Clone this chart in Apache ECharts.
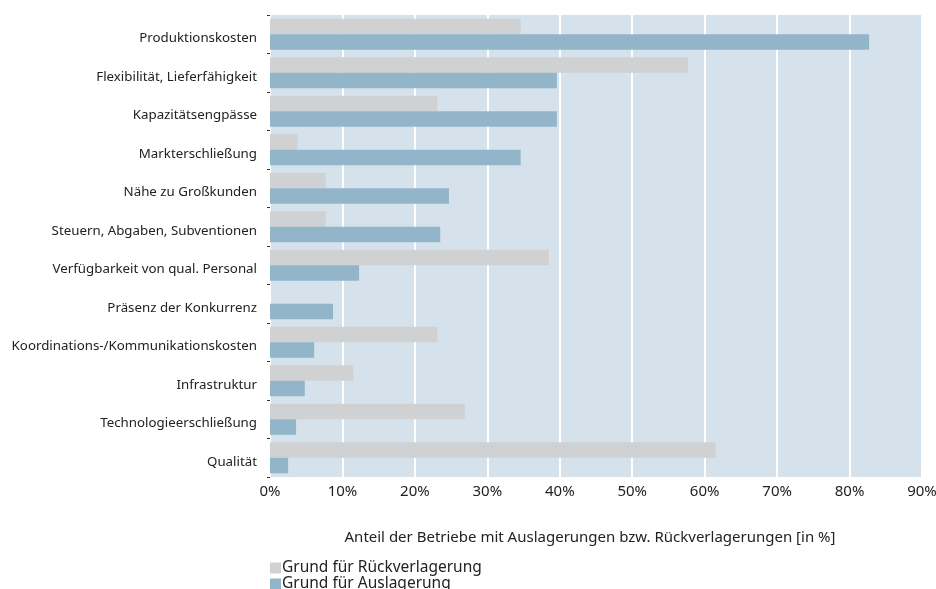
<!DOCTYPE html>
<html>
<head>
<meta charset="utf-8">
<script src="https://cdn.jsdelivr.net/npm/echarts@6/dist/echarts.min.js"></script>
<style>
  html, body { margin: 0; padding: 0; background: #fff; }
  #chart { width: 936px; height: 589px; }
</style>
</head>
<body>
<div id="chart"></div>
<script>
const categories = [
  'Produktionskosten',
  'Flexibilität, Lieferfähigkeit',
  'Kapazitätsengpässe',
  'Markterschließung',
  'Nähe zu Großkunden',
  'Steuern, Abgaben, Subventionen',
  'Verfügbarkeit von qual. Personal',
  'Präsenz der Konkurrenz',
  'Koordinations-/Kommunikationskosten',
  'Infrastruktur',
  'Technologieerschließung',
  'Qualität'
]
const rueckverlagerung = [34.6, 57.7, 23.1, 3.8, 7.7, 7.7, 38.5, 0, 23.1, 11.5, 26.9, 61.5]
const auslagerung = [82.7, 39.6, 39.6, 34.6, 24.7, 23.5, 12.3, 8.7, 6.1, 4.8, 3.6, 2.5]
const seriesNames = ['Grund für Rückverlagerung', 'Grund für Auslagerung']
const xAxisName = 'Anteil der Betriebe mit Auslagerungen bzw. Rückverlagerungen [in %]'

const font = '"Noto Sans", "Open Sans", sans-serif'
const chart = echarts.init(document.getElementById('chart'))

const options = {
  animation: false,
  textStyle: { fontFamily: font },
  grid: {
    left: 270,
    right: 14,
    top: 15,
    bottom: 112,
    outerBoundsMode: 'none',
    show: true,
    backgroundColor: '#d6e2eb',
    borderWidth: 0,
  },
  legend: {
    orient: 'vertical',
    left: 270,
    top: 560,
    height: 60,
    padding: 0,
    itemWidth: 11,
    itemHeight: 11,
    itemGap: 0,
    icon: 'rect',
    textStyle: { fontSize: 15.5, lineHeight: 12, color: '#222', padding: [0, 0, 0, -4] },
    data: seriesNames,
  },
  xAxis: {
    type: 'value',
    min: 0,
    max: 90,
    interval: 10,
    name: xAxisName,
    nameLocation: 'middle',
    nameGap: 53,
    nameTextStyle: { fontSize: 15, color: '#222', padding: [0, 12, 0, 0] },
    axisLine: { show: false },
    axisTick: { show: false },
    axisLabel: { formatter: '{value}%', fontSize: 15, color: '#222', margin: 7 },
    splitLine: { lineStyle: { color: '#ffffff', width: 2 } },
  },
  yAxis: {
    type: 'category',
    inverse: true,
    data: categories,
    axisLine: { show: false },
    axisTick: { show: true, length: 3, lineStyle: { color: '#333' } },
    axisLabel: { fontSize: 13.3, color: '#222', margin: 13, verticalAlign: 'top', lineHeight: 8 },
  },
  series: [
    {
      name: seriesNames[0],
      type: 'bar',
      data: rueckverlagerung,
      itemStyle: { color: '#d0d1d3' },
      barGap: '0%',
      barCategoryGap: '19%',
    },
    {
      name: seriesNames[1],
      type: 'bar',
      data: auslagerung,
      itemStyle: { color: '#93b5ca' },
    },
  ],
}
chart.setOption(options)
</script>
</body>
</html>
